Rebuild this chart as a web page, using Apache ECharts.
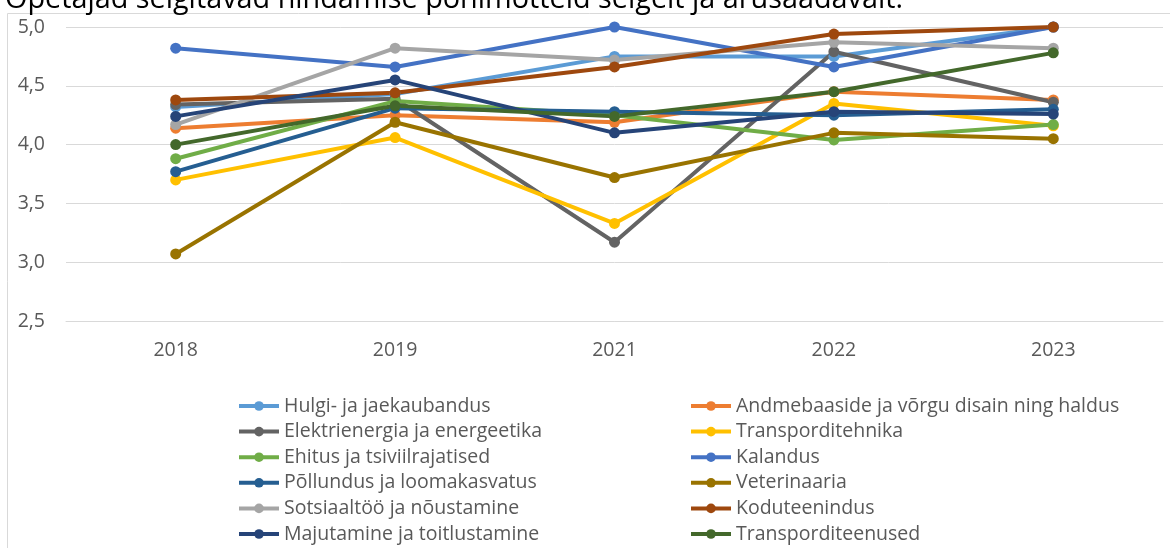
<!DOCTYPE html>
<html>
<head>
<meta charset="utf-8">
<script src="https://cdn.jsdelivr.net/npm/echarts@6/dist/echarts.min.js"></script>
<style>
  html, body { margin: 0; padding: 0; background: #fff; }
  #chart { width: 1170px; height: 548px; }
</style>
</head>
<body>
<div id="chart"></div>
<script>
const years = ['2018', '2019', '2021', '2022', '2023'];

const seriesNames = [
  'Hulgi- ja jaekaubandus',
  'Andmebaaside ja võrgu disain ning haldus',
  'Elektrienergia ja energeetika',
  'Transporditehnika',
  'Ehitus ja tsiviilrajatised',
  'Kalandus',
  'Põllundus ja loomakasvatus',
  'Veterinaaria',
  'Sotsiaaltöö ja nõustamine',
  'Koduteenindus',
  'Majutamine ja toitlustamine',
  'Transporditeenused'
];

const hulgi = [4.32, 4.43, 4.75, 4.75, 5.0];
const andmebaasid = [4.14, 4.25, 4.19, 4.45, 4.38];
const elektri = [4.34, 4.39, 3.17, 4.79, 4.36];
const transpTehnika = [3.70, 4.06, 3.33, 4.35, 4.16];
const ehitus = [3.88, 4.37, 4.25, 4.04, 4.17];
const kalandus = [4.82, 4.66, 5.0, 4.66, 5.0];
const pollundus = [3.77, 4.31, 4.28, 4.25, 4.30];
const veterinaaria = [3.07, 4.19, 3.72, 4.10, 4.05];
const sotsiaaltoo = [4.17, 4.82, 4.72, 4.87, 4.82];
const koduteenindus = [4.38, 4.44, 4.66, 4.94, 5.0];
const majutamine = [4.24, 4.55, 4.10, 4.28, 4.26];
const transpTeenused = [4.00, 4.33, 4.24, 4.45, 4.78];

const seriesValues = [hulgi, andmebaasid, elektri, transpTehnika, ehitus, kalandus,
  pollundus, veterinaaria, sotsiaaltoo, koduteenindus, majutamine, transpTeenused];

const colors = ['#5B9BD5', '#ED7D31', '#636363', '#FFC000', '#70AD47', '#4472C4',
  '#255E91', '#997300', '#A5A5A5', '#9E480E', '#264478', '#43682B'];

const font = "'Open Sans', 'DejaVu Sans', sans-serif";
const textColor = '#595959';

const chart = echarts.init(document.getElementById('chart'));

// two vertical legends give the two-column layout of the original
const legendBase = {
  orient: 'vertical',
  top: 390,
  height: 160,
  itemWidth: 40,
  itemHeight: 12,
  itemGap: 3.6,
  lineStyle: { width: 4 },
  textStyle: { fontFamily: font, fontSize: 19.5, color: textColor, lineHeight: 22 }
};

chart.setOption({
  animation: false,
  color: colors,
  title: {
    text: 'Õpetajad selgitavad hindamise põhimõtteid selgelt ja arusaadavalt.',
    left: 0,
    top: -20,
    textStyle: { fontFamily: font, fontSize: 28.8, fontWeight: 'normal', color: '#000' }
  },
  graphic: [{
    type: 'rect',
    shape: { x: 7.5, y: 13.5, width: 1200, height: 600 },
    style: { fill: 'none', stroke: '#d9d9d9', lineWidth: 1 },
    z: -1
  }],
  legend: [
    Object.assign({}, legendBase, {
      left: 232,
      data: seriesNames.filter((n, i) => i % 2 === 0)
    }),
    Object.assign({}, legendBase, {
      left: 684,
      data: seriesNames.filter((n, i) => i % 2 === 1)
    })
  ],
  grid: { left: 66, right: 7, top: 27, bottom: 227 },
  xAxis: {
    type: 'category',
    data: years,
    boundaryGap: true,
    axisLine: { lineStyle: { color: '#d9d9d9', width: 1 } },
    axisTick: { show: false },
    axisLabel: { fontFamily: font, fontSize: 19.5, color: textColor, margin: 19 }
  },
  yAxis: {
    type: 'value',
    min: 2.5,
    max: 5,
    interval: 0.5,
    axisLine: { show: false },
    axisTick: { show: false },
    splitLine: { lineStyle: { color: '#d9d9d9', width: 1 } },
    axisLabel: {
      fontFamily: font, fontSize: 19.5, color: textColor, margin: 21,
      formatter: v => v.toFixed(1).replace('.', ',')
    }
  },
  series: seriesNames.map((name, i) => ({
    name: name,
    type: 'line',
    data: seriesValues[i],
    symbol: 'circle',
    symbolSize: 11,
    lineStyle: { width: 4, color: colors[i] },
    itemStyle: { color: colors[i] }
  }))
});
</script>
</body>
</html>
